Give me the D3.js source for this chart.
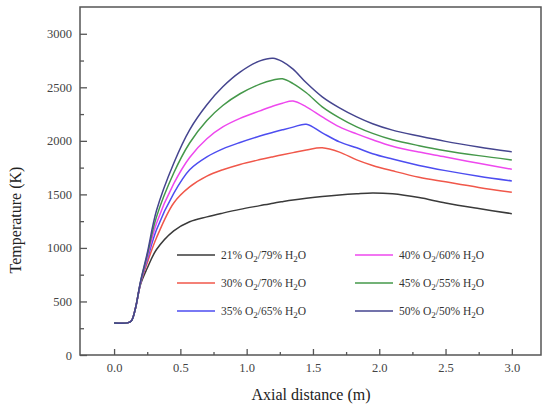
<!DOCTYPE html>
<html>
<head>
<meta charset="utf-8">
<script src="https://cdn.jsdelivr.net/npm/d3@7"></script>
<style>
  body { margin: 0; background: #fff; }
  svg text { font-family: "Liberation Serif", "Times New Roman", serif; }
</style>
</head>
<body>
<div id="graph"></div>
<script>
// axial distance grid (m), shared by all series
let distance = [0, 0.1, 0.13, 0.16, 0.2, 0.25, 0.32, 0.45, 0.57, 0.7, 0.82, 0.95, 1.1, 1.2, 1.27, 1.35, 1.45, 1.57, 1.7, 1.83, 1.95, 2.1, 2.3, 2.5, 2.75, 3.0]

// temperature (K) for each O2/H2O mix
let t21 = [300, 300, 318, 430, 660, 810, 985, 1160, 1245, 1290, 1325, 1360, 1395, 1418, 1432, 1447, 1463, 1480, 1495, 1506, 1513, 1505, 1470, 1420, 1368, 1320]
let t30 = [300, 300, 318, 430, 670, 860, 1095, 1420, 1570, 1670, 1730, 1780, 1825, 1852, 1870, 1890, 1915, 1935, 1895, 1822, 1770, 1720, 1660, 1617, 1565, 1520]
let t35 = [300, 300, 318, 430, 675, 890, 1170, 1510, 1730, 1850, 1925, 1985, 2045, 2080, 2103, 2128, 2155, 2075, 1990, 1935, 1880, 1830, 1770, 1722, 1670, 1626]
let t40 = [300, 300, 318, 430, 680, 910, 1230, 1600, 1845, 2020, 2130, 2210, 2280, 2325, 2352, 2372, 2318, 2224, 2131, 2065, 2010, 1950, 1895, 1850, 1790, 1735]
let t45 = [300, 300, 318, 430, 685, 930, 1290, 1700, 1980, 2190, 2330, 2440, 2530, 2568, 2580, 2535, 2449, 2318, 2215, 2131, 2070, 2010, 1955, 1908, 1862, 1822]
let t50 = [300, 300, 318, 430, 690, 950, 1349, 1791, 2103, 2337, 2505, 2642, 2747, 2772, 2740, 2670, 2542, 2411, 2308, 2224, 2160, 2100, 2045, 1995, 1943, 1897]

let o2 = ['21', '30', '35', '40', '45', '50']
let h2o = ['79', '70', '65', '60', '55', '50']
let colors = ['#3a3a3a', '#f0574a', '#4d4df0', '#ee48ee', '#45984a', '#45458f']
let series = [t21, t30, t35, t40, t45, t50]

let yTicks = [0, 500, 1000, 1500, 2000, 2500, 3000]
let xTicks = [0, 0.5, 1.0, 1.5, 2.0, 2.5, 3.0]

let width = 544, height = 409
let plotLeft = 80, plotRight = 541, plotTop = 7, plotBottom = 355
let serif = '"Liberation Serif", "Times New Roman", serif'

let svg = d3.select('#graph')
    .append('svg')
    .attr('width', width)
    .attr('height', height)

let x = d3.scaleLinear().domain([-0.257, 3.22]).range([plotLeft, plotRight])
let y = d3.scaleLinear().domain([0, 3250]).range([plotBottom, plotTop])

// minor ticks
let xMinor = d3.range(0.25, 3.0, 0.5)
let yMinor = d3.range(250, 3250, 500)

let xAxis = svg.append('g')
    .attr('transform', `translate(0,${plotBottom})`)
    .call(d3.axisBottom(x).tickValues(xTicks).tickFormat(d3.format('.1f')).tickSize(-6).tickPadding(8))
xAxis.select('.domain').remove()

svg.append('g')
    .attr('transform', `translate(0,${plotBottom})`)
    .call(d3.axisBottom(x).tickValues(xMinor).tickFormat('').tickSize(-3))
    .select('.domain').remove()

let yAxis = svg.append('g')
    .attr('transform', `translate(${plotLeft},0)`)
    .call(d3.axisLeft(y).tickValues(yTicks).tickFormat(d3.format('d')).tickSize(-7).tickPadding(8))
yAxis.select('.domain').remove()

svg.append('g')
    .attr('transform', `translate(${plotLeft},0)`)
    .call(d3.axisLeft(y).tickValues(yMinor).tickFormat('').tickSize(-4))
    .select('.domain').remove()

svg.selectAll('.tick line').attr('stroke', '#555').attr('stroke-width', 1.3)
svg.selectAll('.tick text')
    .attr('fill', '#444')
    .style('font-family', serif)
    .style('font-size', '12.5px')

// frame
svg.append('rect')
    .attr('x', plotLeft)
    .attr('y', plotTop)
    .attr('width', plotRight - plotLeft)
    .attr('height', plotBottom - plotTop)
    .attr('fill', 'none')
    .attr('stroke', '#555')
    .attr('stroke-width', 1.5)

let line = d3.line()
    .x((d, i) => x(distance[i]))
    .y(d => y(d))
    .curve(d3.curveCatmullRom.alpha(0.5))

svg.append('g')
    .selectAll('path')
    .data(series)
    .join('path')
    .attr('d', d => line(d))
    .attr('fill', 'none')
    .attr('stroke', (d, i) => colors[i])
    .attr('stroke-width', 1.5)

// legend, two columns of three
let legend = svg.append('g')
o2.forEach((p, i) => {
    let col = Math.floor(i / 3), row = i % 3
    let lx = col == 0 ? 177 : 355
    let ly = 255 + row * 28
    legend.append('line')
        .attr('x1', lx).attr('x2', lx + 38)
        .attr('y1', ly).attr('y2', ly)
        .attr('stroke', colors[i])
        .attr('stroke-width', 1.5)
    let t = legend.append('text')
        .attr('x', lx + 44)
        .attr('y', ly + 4)
        .attr('fill', '#333')
        .style('font-size', '11.5px')
    t.append('tspan').text(p + '% O')
    t.append('tspan').text('2').attr('dy', 3).style('font-size', '9px')
    t.append('tspan').text('/' + h2o[i] + '% H').attr('dy', -3)
    t.append('tspan').text('2').attr('dy', 3).style('font-size', '9px')
    t.append('tspan').text('O').attr('dy', -3)
})

svg.append('text')
    .attr('x', 311)
    .attr('y', 400)
    .attr('text-anchor', 'middle')
    .attr('fill', '#222')
    .style('font-size', '16px')
    .text('Axial distance (m)')

svg.append('text')
    .attr('transform', 'translate(21,220) rotate(-90)')
    .attr('text-anchor', 'middle')
    .attr('fill', '#222')
    .style('font-size', '16px')
    .text('Temperature (K)')
</script>
</body>
</html>
